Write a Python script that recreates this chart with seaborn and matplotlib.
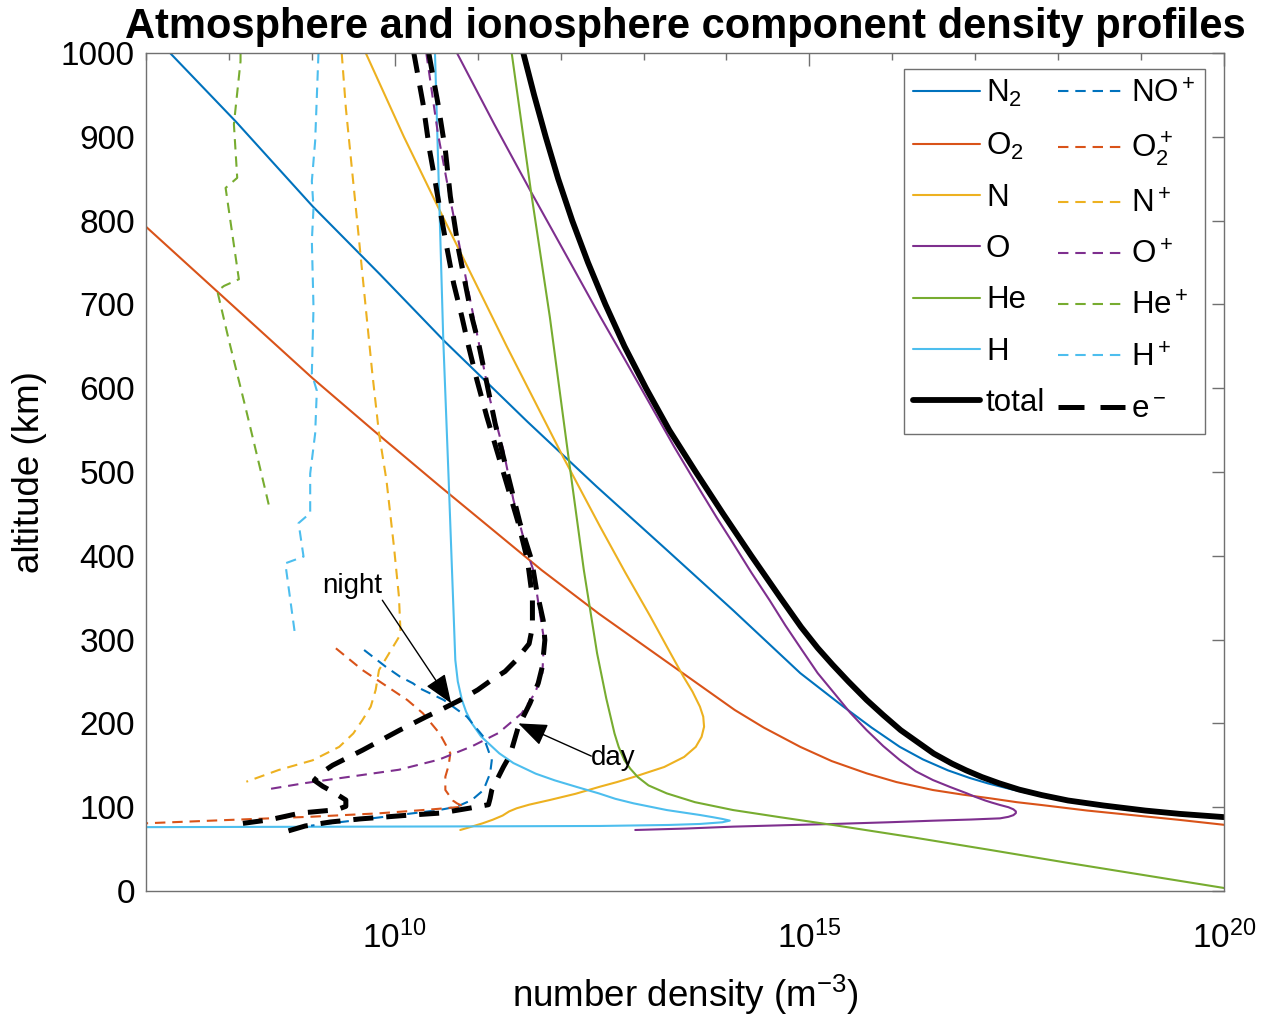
import numpy as np
import matplotlib
matplotlib.use('Agg')
import matplotlib.pyplot as plt
from matplotlib.lines import Line2D
from matplotlib.ticker import FixedLocator, NullFormatter
import seaborn as sns

# ---------------------------------------------------------------- data
# altitude in km, density given as log10(n / m^-3)
n2_alt = [1000, 918, 817, 736, 656, 560, 483, 407, 335, 260, 220, 195, 172, 157, 144, 135, 128.5,
          121, 114.5, 108, 102, 96, 92, 87.5, 86.9]
n2_log = [7.29, 8.085, 9.01, 9.82, 10.6, 11.6, 12.43, 13.28, 14.08, 14.89, 15.41, 15.75, 16.09, 16.37,
          16.67, 16.93, 17.15, 17.45, 17.75, 18.08, 18.45, 18.93, 19.35, 19.93, 20.02]

o2_alt = [792.7, 700, 611.8, 546.5, 482.5, 383, 331, 275.6, 216, 195, 172, 155, 140.4, 130, 120.5,
          115, 110.6, 106, 102.6, 96, 90, 85, 79]
o2_log = [7.0, 8.03, 9.01, 9.78, 10.55, 11.77, 12.46, 13.25, 14.10, 14.45, 14.89, 15.27, 15.69, 16.05,
          16.49, 16.85, 17.18, 17.50, 17.80, 18.35, 18.95, 19.45, 20.0]

n_alt = [72.8, 76, 80.8, 85, 90, 95, 98.7, 103, 108.6, 116, 124.5, 130, 136, 148, 160, 172, 184, 196,
         208, 220, 238, 256, 290, 328, 380, 435, 518, 650, 820.6, 900, 1000]
n_log = [10.79, 10.9, 11.06, 11.18, 11.3, 11.38, 11.47, 11.62, 11.87, 12.18, 12.475, 12.68, 12.88,
         13.25, 13.49, 13.63, 13.70, 13.73, 13.72, 13.68, 13.59, 13.48, 13.29, 13.08, 12.78, 12.475,
         12.03, 11.35, 10.5, 10.11, 9.65]

o_alt = [72.8, 74.5, 76.8, 78.5, 80, 82, 83.9, 85.3, 86.7, 88.5, 90.5, 93, 95, 97.5, 100, 102.6,
         105.5, 108, 112, 116.5, 124, 132.4, 143, 156.3, 173, 192, 213, 236, 260, 287.6, 317, 347,
         380, 414.9, 446, 478.5, 530, 586, 635, 685, 760, 833, 915, 1000]
o_log = [12.9, 13.5, 14.08, 14.7, 15.29, 15.95, 16.49, 16.95, 17.30, 17.40, 17.46, 17.49, 17.49,
         17.46, 17.40, 17.30, 17.20, 17.12, 17.01, 16.90, 16.70, 16.49, 16.28, 16.09, 15.89, 15.69,
         15.49, 15.30, 15.10, 14.91, 14.71, 14.52, 14.30, 14.08, 13.88, 13.68, 13.37, 13.05, 12.77,
         12.48, 12.06, 11.65, 11.20, 10.75]

he_alt = [3.6, 20, 34, 49, 64, 78.7, 88, 96.6, 106, 116.5, 126, 136, 146, 156, 172, 188, 230, 283.6,
          383, 514, 685, 836.5, 1000]
he_log = [20.0, 18.97, 18.09, 17.18, 16.25, 15.29, 14.65, 14.08, 13.62, 13.28, 13.06, 12.93, 12.84,
          12.77, 12.70, 12.65, 12.55, 12.44, 12.28, 12.10, 11.87, 11.64, 11.41]

h_alt = [76.2, 77.0, 77.6, 78.8, 80, 82, 84, 86, 88, 90.7, 96.6, 104.6, 110, 116.5, 124, 132, 140,
         152.7, 164.3, 184.5, 200, 214, 228, 250, 275.7, 330, 383, 490.7, 657.5, 1000]
h_log = [7.0, 10.5, 12.475, 13.3, 13.68, 13.95, 14.04, 13.95, 13.84, 13.68, 13.28, 12.88, 12.66,
         12.46, 12.20, 11.93, 11.70, 11.43, 11.26, 11.04, 10.93, 10.86, 10.81, 10.76, 10.73, 10.71,
         10.69, 10.65, 10.585, 10.485]

tot_alt = [1000, 950, 900, 850, 800, 750, 700, 650, 600, 550, 500, 450, 400, 350, 315, 290, 270, 250,
           228, 210, 192, 178, 164, 152, 144, 136, 128.5, 121, 114.5, 108, 102, 96, 92, 87.8]
tot_log = [11.55, 11.68, 11.82, 11.97, 12.14, 12.33, 12.54, 12.77, 13.03, 13.31, 13.63, 13.96, 14.30,
           14.65, 14.90, 15.10, 15.28, 15.47, 15.69, 15.89, 16.10, 16.30, 16.50, 16.72, 16.89, 17.08,
           17.29, 17.53, 17.80, 18.12, 18.55, 19.05, 19.47, 20.05]

# ions
nop_alt = [287.6, 267.7, 256, 247.8, 241.9, 228, 208, 184, 156, 140.4, 120.5, 108.6, 100.7, 96.7, 88.7, 78.0]
nop_log = [9.63, 9.89, 10.06, 10.22, 10.30, 10.59, 10.87, 11.07, 11.17, 11.15, 11.07, 10.93, 10.75, 10.54, 9.89, 8.99]

o2p_alt = [289.6, 263.7, 239.9, 228, 212, 188, 180, 164.3, 150, 136.4, 120.5, 108, 104.6, 100.7, 97.5, 92.7, 88.7, 84, 80.8]
o2p_log = [9.29, 9.61, 9.97, 10.15, 10.34, 10.54, 10.585, 10.67, 10.65, 10.61, 10.61, 10.70, 10.75, 10.83, 10.46, 9.81, 9.01, 7.80, 7.0]

np_alt = [1000, 934.5, 855, 776, 696, 617, 546, 490, 411, 351.5, 307.8, 303, 263.7, 240, 220, 204, 188, 172, 156, 144.4, 130.4]
np_log = [9.36, 9.41, 9.49, 9.57, 9.65, 9.73, 9.81, 9.90, 9.99, 10.05, 10.07, 10.05, 9.81, 9.77, 9.71, 9.61, 9.50, 9.33, 9.01, 8.60, 8.21]

op_alt = [1000, 904, 825, 765, 705, 646, 586, 526, 467, 407, 383, 371, 331.6, 300, 260, 236, 212, 188.5, 172.6, 156.7, 144.7, 136.8, 128.8, 120.9]
op_log = [10.38, 10.52, 10.67, 10.79, 10.91, 11.03, 11.15, 11.31, 11.43, 11.59, 11.67, 11.69, 11.75, 11.80, 11.78, 11.69, 11.53, 11.25, 10.93, 10.53, 10.05, 9.49, 8.92, 8.44]

hep_alt = [1000, 990, 915, 851, 839, 730, 722, 716, 657, 577, 478, 461]
hep_log = [8.14, 8.14, 8.06, 8.10, 7.96, 8.12, 7.94, 7.86, 8.0, 8.20, 8.44, 8.48]

hp_alt = [1000, 895, 847, 815, 776, 696, 617, 597, 546, 498, 451, 439, 399, 391, 304]
hp_log = [9.08, 9.04, 9.0, 9.02, 9.0, 9.02, 9.0, 9.06, 9.04, 8.98, 8.98, 8.84, 8.90, 8.68, 8.80]

eday_alt = [1000, 940, 884, 829, 765, 725, 685, 654, 606, 558, 518, 478.5, 439, 395, 359, 323, 299.5, 268, 248, 224, 196, 162, 148, 120.5, 110.6, 103, 99, 93, 90, 86, 82.3, 77.6, 69.2]
eday_log = [10.41, 10.52, 10.61, 10.67, 10.77, 10.85, 10.93, 11.01, 11.11, 11.21, 11.31, 11.41, 11.51, 11.65, 11.71, 11.79, 11.81, 11.78, 11.73, 11.63, 11.49, 11.39, 11.31, 11.17, 11.15, 11.13, 10.91, 10.55, 10.10, 9.58, 9.22, 8.92, 8.63]

enight_alt = [1000, 940, 884, 848, 813, 769, 725, 685, 650, 610, 566, 526, 486, 439, 395, 350, 315, 295, 284, 276, 262, 252, 240, 228, 216, 208, 192, 168, 150, 140, 132, 125, 118.5, 108.6, 101, 97, 93, 85, 79]
enight_log = [10.23, 10.34, 10.42, 10.485, 10.545, 10.626, 10.71, 10.81, 10.89, 10.99, 11.11, 11.23, 11.35, 11.49, 11.60, 11.66, 11.66, 11.62, 11.53, 11.47, 11.33, 11.17, 11.0, 10.79, 10.55, 10.38, 10.06, 9.61, 9.25, 9.10, 9.03, 9.13, 9.25, 9.41, 9.41, 9.30, 8.86, 8.49, 8.04]

# ---------------------------------------------------------------- style
sns.set_style('white')
plt.rcParams['font.family'] = ['Liberation Sans', 'DejaVu Sans']
plt.rcParams['mathtext.fontset'] = 'custom'
plt.rcParams['mathtext.rm'] = 'Liberation Sans'
plt.rcParams['mathtext.it'] = 'Liberation Sans:italic'
plt.rcParams['mathtext.bf'] = 'Liberation Sans:bold'
plt.rcParams['text.color'] = 'k'

c_blue, c_red, c_yel = '#0072BD', '#D95319', '#EDB120'
c_pur, c_grn, c_cyn = '#7E2F8E', '#77AC30', '#4DBEEE'
axcol = '#707070'

fig = plt.figure(figsize=(12.71, 10.18), dpi=100)
ax = fig.add_axes([146 / 1271, 1 - 891 / 1018, 1078 / 1271, 838 / 1018])
ax.set_xscale('log')


def draw(alt, logn, color, lw=1.5, dashes=None, label=None):
    sns.lineplot(x=10.0 ** np.asarray(logn), y=alt, sort=False, estimator=None,
                 color=color, linewidth=lw, ax=ax, legend=False, label=label)
    line = ax.lines[-1]
    if dashes is not None:
        line.set_dashes(dashes)
    return line


ion_d = (5, 3.3)
e_d = (4, 2.6)
h = {}
h['N2'] = draw(n2_alt, n2_log, c_blue)
h['O2'] = draw(o2_alt, o2_log, c_red)
h['N'] = draw(n_alt, n_log, c_yel)
h['O'] = draw(o_alt, o_log, c_pur)
h['He'] = draw(he_alt, he_log, c_grn)
h['H'] = draw(h_alt, h_log, c_cyn)
h['tot'] = draw(tot_alt, tot_log, 'k', lw=4.2)
h['NO+'] = draw(nop_alt, nop_log, c_blue, dashes=ion_d)
h['O2+'] = draw(o2p_alt, o2p_log, c_red, dashes=ion_d)
h['N+'] = draw(np_alt, np_log, c_yel, dashes=ion_d)
h['O+'] = draw(op_alt, op_log, c_pur, dashes=ion_d)
h['He+'] = draw(hep_alt, hep_log, c_grn, dashes=ion_d)
h['H+'] = draw(hp_alt, hp_log, c_cyn, dashes=ion_d)
draw(eday_alt, eday_log, 'k', lw=3.6, dashes=e_d)
draw(enight_alt, enight_log, 'k', lw=3.6, dashes=e_d)
h['e'] = Line2D([], [], color='k', lw=3.6, dashes=(5.2, 3.2))

# ---------------------------------------------------------------- annotations
arr = dict(arrowstyle='-|>,head_length=0.9,head_width=0.35', color='k', lw=1,
           mutation_scale=20, shrinkA=0, shrinkB=0)
ax.annotate('', xy=(10 ** 10.68, 224), xytext=(10 ** 9.85, 347), arrowprops=arr)
ax.text(10 ** 9.49, 364, 'night', fontsize=20, ha='center', va='center')
ax.annotate('', xy=(10 ** 11.49, 200), xytext=(10 ** 12.37, 161), arrowprops=arr)
ax.text(10 ** 12.64, 159, 'day', fontsize=20, ha='center', va='center')

# ---------------------------------------------------------------- axes
ax.set_xlim(1e7, 1e20)
ax.set_ylim(0, 1000)
ax.set_yticks(range(0, 1001, 100))
ax.set_xticks([1e10, 1e15, 1e20])
ax.set_xticklabels([r'$\mathregular{10^{10}}$', r'$\mathregular{10^{15}}$', r'$\mathregular{10^{20}}$'])
ax.xaxis.set_minor_locator(FixedLocator([10.0 ** k for k in range(7, 21)]))
ax.xaxis.set_minor_formatter(NullFormatter())
ax.tick_params(which='major', direction='in', length=9, width=1, labelsize=24,
               top=True, right=True, color=axcol, labelcolor='k', pad=8)
ax.tick_params(axis='x', which='major', pad=21)
ax.tick_params(which='minor', direction='in', length=5, width=1, top=True, right=True, color=axcol)
for s in ax.spines.values():
    s.set_color(axcol)
    s.set_linewidth(1)

ax.set_xlabel(r'number density (m$\mathregular{^{-3}}$)', fontsize=26.5, color='k', labelpad=13)
ax.set_ylabel('altitude (km)', fontsize=26.5, color='k', labelpad=10)
ax.set_title('Atmosphere and ionosphere component density profiles',
             fontsize=30, fontweight='bold', color='k', pad=11)

handles = [h['N2'], h['O2'], h['N'], h['O'], h['He'], h['H'], h['tot'],
           h['NO+'], h['O2+'], h['N+'], h['O+'], h['He+'], h['H+'], h['e']]
labels = [r'N$\mathregular{_2}$', r'O$\mathregular{_2}$', 'N', 'O', 'He', 'H', 'total',
          r'NO$\mathregular{^+}$', r'$\mathregular{O_2^+}$', r'N$\mathregular{^+}$',
          r'O$\mathregular{^+}$', r'He$\mathregular{^+}$', r'H$\mathregular{^+}$',
          r'e$\mathregular{^-}$']
leg = ax.legend(handles, labels, ncol=2, loc='upper right', bbox_to_anchor=(0.982, 0.981),
                borderaxespad=0, fontsize=22.5, frameon=True, fancybox=False, framealpha=1,
                edgecolor=axcol, borderpad=0.3, handlelength=2.15, handletextpad=0.18,
                labelspacing=0.68, columnspacing=0.4)
leg.get_frame().set_linewidth(1)

fig.savefig('out.png', dpi=100)
